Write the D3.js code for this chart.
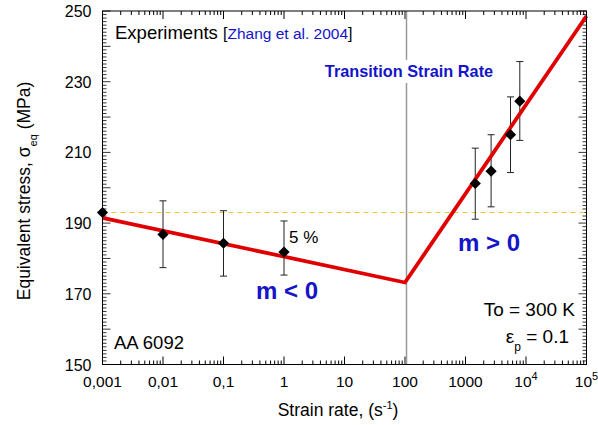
<!DOCTYPE html>
<html><head><meta charset="utf-8">
<script src="https://cdn.jsdelivr.net/npm/d3@7"></script>
<style>body{margin:0;background:#fff;} svg{display:block;font-family:"Liberation Sans",Arial,sans-serif;}</style>
</head><body><svg id="c" width="598" height="425"></svg>
<script>
const rates   = [0.001, 0.01, 0.1, 1, 1450, 2650, 5550, 7900];
const stress  = [193, 186.8, 184.3, 181.8, 201.2, 204.7, 215, 224.5];
const errLow  = [193, 177.4, 175.0, 175.3, 191.1, 194.6, 204.3, 213.4];
const errHigh = [193, 196.3, 193.5, 190.6, 211.2, 215.0, 225.7, 235.7];
const fitRates  = [0.001, 100, 100000];
const fitStress = [191.5, 173.2, 248.6];
const refStress = 193;
const transitionRate = 100;
const xTickValues = [1e-3, 1e-2, 1e-1, 1, 10, 100, 1000, 1e4, 1e5];
const xTickLabels = ["0,001", "0,01", "0,1", "1", "10", "100", "1000", "10^4", "10^5"];
const yTickValues = [150, 170, 190, 210, 230, 250];

const svg = d3.select("#c");
const L = 102.5, R = 586.5, T = 11, B = 364.5;
const x = d3.scaleLog().domain([1e-3, 1e5]).range([L, R]);
const y = d3.scaleLinear().domain([150, 250]).range([B, T]);
const blue = "#1414c8";

// minor ticks x
const xMinor = [];
for (let e = -3; e < 5; e++) for (let m = 2; m <= 9; m++) xMinor.push(m * Math.pow(10, e));
const g = svg.append("g");
g.selectAll(".xmb").data(xMinor).join("line").attr("x1", d => x(d)).attr("x2", d => x(d)).attr("y1", B).attr("y2", B - 4).attr("stroke", "#000");
g.selectAll(".xmt").data(xMinor).join("line").attr("x1", d => x(d)).attr("x2", d => x(d)).attr("y1", T).attr("y2", T + 4).attr("stroke", "#000");
g.selectAll(".xMb").data(xTickValues).join("line").attr("x1", d => x(d)).attr("x2", d => x(d)).attr("y1", B).attr("y2", B - 8).attr("stroke", "#000");
g.selectAll(".xMt").data(xTickValues).join("line").attr("x1", d => x(d)).attr("x2", d => x(d)).attr("y1", T).attr("y2", T + 8).attr("stroke", "#000");
const yMinor = d3.range(150, 251, 1);
g.selectAll(".yl").data(yMinor).join("line").attr("x1", L).attr("x2", d => L + (d % 10 === 0 ? 8 : 4)).attr("y1", d => y(d)).attr("y2", d => y(d)).attr("stroke", "#000").attr("stroke-width", 0.8);
g.selectAll(".yr").data(yMinor).join("line").attr("x1", R).attr("x2", d => R - (d % 10 === 0 ? 8 : 4)).attr("y1", d => y(d)).attr("y2", d => y(d)).attr("stroke", "#000").attr("stroke-width", 0.8);

// tick labels
g.selectAll(".xl").data(xTickValues).join("text").attr("x", d => x(d)).attr("y", B + 22).attr("text-anchor", "middle").attr("font-size", 15.5)
  .each(function(d, i) {
    const t = d3.select(this), s = xTickLabels[i];
    if (s.includes("^")) {
      const [b, e] = s.split("^");
      t.append("tspan").text(b);
      t.append("tspan").attr("font-size", 11).attr("dy", -7).text(e);
    } else t.text(s);
  });
g.selectAll(".ylab").data(yTickValues).join("text").attr("x", L - 11).attr("y", d => y(d) + 6).attr("text-anchor", "end").attr("font-size", 16).text(d => d);

// reference dashed line
svg.append("line").attr("x1", L).attr("x2", R).attr("y1", y(refStress)).attr("y2", y(refStress)).attr("stroke", "#f2c230").attr("stroke-width", 1).attr("stroke-dasharray", "5,4");

// transition vertical line (gap behind label)
svg.append("line").attr("x1", x(transitionRate) + 1.5).attr("x2", x(transitionRate) + 1.5).attr("y1", T).attr("y2", 60).attr("stroke", "#999").attr("stroke-width", 1.5);
svg.append("line").attr("x1", x(transitionRate) + 1.5).attr("x2", x(transitionRate) + 1.5).attr("y1", 83).attr("y2", B).attr("stroke", "#999").attr("stroke-width", 1.5);

// error bars
const pts = rates.map((r, i) => ({ r, s: stress[i], lo: errLow[i], hi: errHigh[i] }));
const eb = svg.append("g").attr("stroke", "#222").attr("stroke-width", 1);
pts.filter(d => d.hi > d.lo).forEach(d => {
  eb.append("line").attr("x1", x(d.r)).attr("x2", x(d.r)).attr("y1", y(d.lo)).attr("y2", y(d.hi));
  eb.append("line").attr("x1", x(d.r) - 3.5).attr("x2", x(d.r) + 3.5).attr("y1", y(d.lo)).attr("y2", y(d.lo));
  eb.append("line").attr("x1", x(d.r) - 3.5).attr("x2", x(d.r) + 3.5).attr("y1", y(d.hi)).attr("y2", y(d.hi));
});

// fit line
const line = d3.line().x(d => x(d[0])).y(d => y(d[1]));
svg.append("path").datum(fitRates.map((r, i) => [r, fitStress[i]])).attr("d", line).attr("fill", "none").attr("stroke", "#e00000").attr("stroke-width", 3.8).attr("stroke-linejoin", "miter");

// diamonds
svg.selectAll(".dm").data(pts).join("path")
  .attr("d", d3.symbol().type(d3.symbolDiamond2 || d3.symbolDiamond).size(80))
  .attr("transform", d => `translate(${x(d.r)},${y(d.s)})`)
  .attr("fill", "#000");

// frame
svg.append("rect").attr("x", L).attr("y", T).attr("width", R - L).attr("height", B - T).attr("fill", "none").attr("stroke", "#000").attr("stroke-width", 1);

// texts
const t1 = svg.append("text").attr("x", 115).attr("y", 39).attr("font-size", 18.5);
t1.append("tspan").text("Experiments ");
t1.append("tspan").attr("font-size", 16).text("[");
t1.append("tspan").attr("font-size", 15.5).attr("fill", blue).text("Zhang et al. 2004");
t1.append("tspan").attr("font-size", 16).text("]");

svg.append("text").attr("x", 409).attr("y", 77).attr("text-anchor", "middle").attr("font-size", 16.3).attr("font-weight", "bold").attr("fill", blue).text("Transition Strain Rate");
svg.append("text").attr("x", 289).attr("y", 243).attr("font-size", 17).text("5 %");
svg.append("text").attr("x", 287).attr("y", 299).attr("text-anchor", "middle").attr("font-size", 24).attr("font-weight", "bold").attr("fill", blue).text("m < 0");
svg.append("text").attr("x", 489).attr("y", 251).attr("text-anchor", "middle").attr("font-size", 24).attr("font-weight", "bold").attr("fill", blue).text("m > 0");
svg.append("text").attr("x", 575).attr("y", 316).attr("text-anchor", "end").attr("font-size", 19).text("To = 300 K");
const ep = svg.append("text").attr("x", 569).attr("y", 343).attr("text-anchor", "end").attr("font-size", 19);
ep.append("tspan").text("ε");
ep.append("tspan").attr("font-size", 12).attr("dy", 8).text("p");
ep.append("tspan").attr("dy", -8).text(" = 0.1");
svg.append("text").attr("x", 114).attr("y", 349).attr("font-size", 18.5).text("AA 6092");

// axis titles
const xt = svg.append("text").attr("x", 338).attr("y", 416).attr("text-anchor", "middle").attr("font-size", 17.5);
xt.append("tspan").text("Strain rate, (s");
xt.append("tspan").attr("font-size", 11).attr("dy", -7).text("-1");
xt.append("tspan").attr("dy", 7).text(")");
const yt = svg.append("text").attr("transform", "translate(30,191) rotate(-90)").attr("text-anchor", "middle").attr("font-size", 17.5);
yt.append("tspan").text("Equivalent stress, σ");
yt.append("tspan").attr("font-size", 11).attr("dy", 7).text("eq");
yt.append("tspan").attr("dy", -7).text("  (MPa)");
</script></body></html>
